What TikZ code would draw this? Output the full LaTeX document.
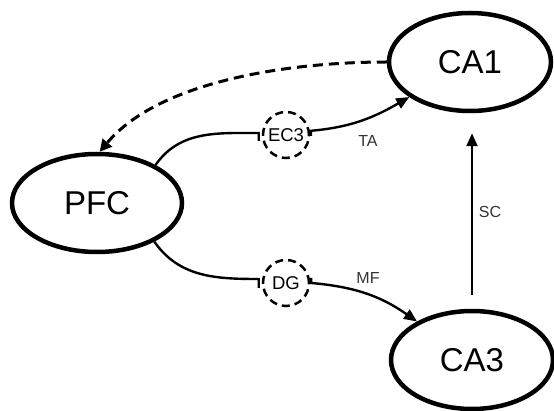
\documentclass[tikz,border=0pt]{standalone}
\usepackage{fontspec}
\setmainfont{Liberation Sans}
\usetikzlibrary{shapes.geometric,arrows.meta}
\tikzset{
  region/.style={ellipse, draw, line width=4.5pt, minimum width=162pt, minimum height=98pt,
    font=\fontsize{33}{36}\selectfont},
  relay/.style={circle, draw, dash pattern=on 8pt off 5pt, line width=2.5pt,
    minimum size=46pt, inner sep=0pt, font=\fontsize{18.5}{20}\selectfont},
  feed/.style={line width=2.4pt},
  link/.style={feed, -{Triangle[length=13pt,width=11pt]}},
  back/.style={line width=3pt, dash pattern=on 10pt off 6pt, -{Triangle[length=12pt,width=12pt]}},
  tag/.style={font=\fontsize{16}{18}\selectfont, text=black!80},
}
\begin{document}
\begin{tikzpicture}[x=1pt, y=1pt]
\useasboundingbox (0,0) rectangle (554,-411);
% regions
\node[region] (ca1) at (470,-62) {CA1};
\node[region] (ca3) at (472,-360) {CA3};
\node[region, minimum width=170pt] (pfc) at (97,-203) {PFC};
% relays
\node[relay] (ec3) at (286,-135) {EC3};
\node[relay] (dg) at (286,-283) {DG};
% pathways
\draw[feed] (pfc.33) to[out=55, in=180] ([shift={(-3pt,2pt)}]ec3.west) -- ++(0,-8);
\draw[link] ([shift={(1pt,-5pt)}]ec3.10) -- ([xshift=1pt]ec3.10) to[out=5, in=210] (ca1);
\draw[feed] (pfc.-34) to[out=-55, in=180] ([shift={(-3pt,4pt)}]dg.west) -- ++(0,-9);
\draw[link] ([shift={(1pt,5pt)}]dg.east) -- ([xshift=1pt]dg.east) to[out=-5, in=145] (ca3);
\draw[link, shorten <=14pt, shorten >=20pt] (ca3.north) -- (ca3.north |- ca1.south);
\draw[back] (ca1.west) to[out=180, in=50, looseness=0.8] (pfc.87);
% labels
\node[tag] (ta) at (368,-141) {TA};
\node[tag] (mf) at (368,-278) {MF};
\node[tag] (sc) at (490,-212) {SC};
\end{tikzpicture}
\end{document}
